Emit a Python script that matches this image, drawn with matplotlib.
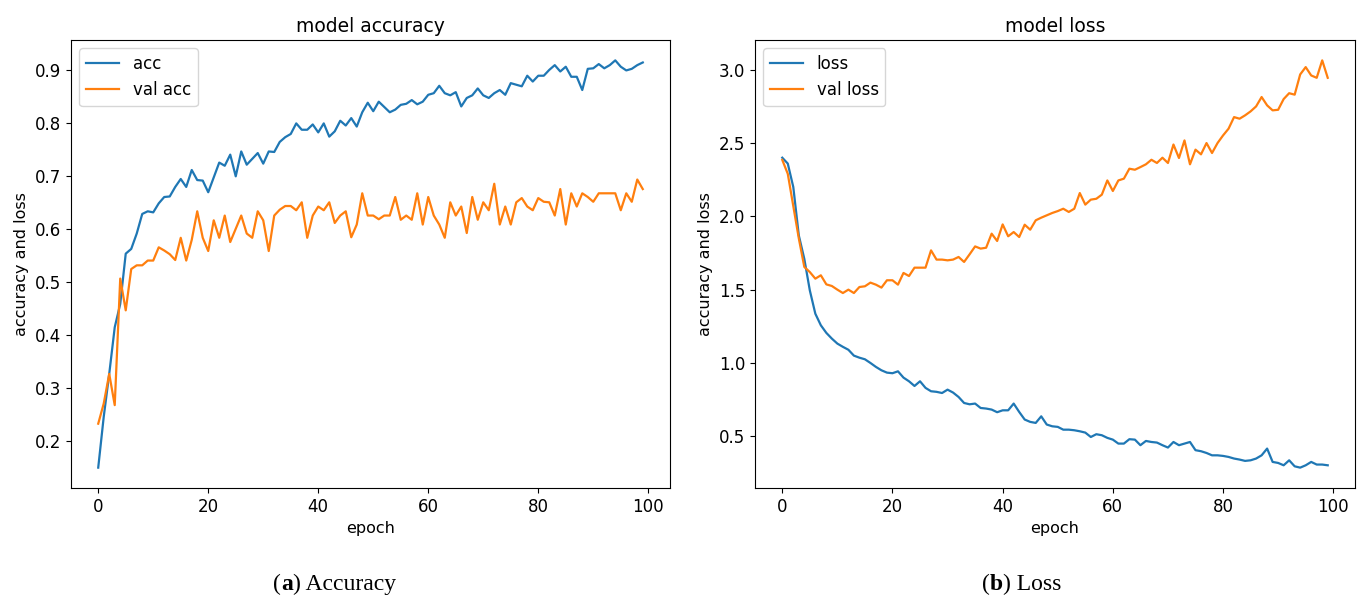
import matplotlib
matplotlib.use("Agg")
import matplotlib.pyplot as plt
import numpy as np

# values, one per epoch (0..99)
acc = [0.149, 0.245, 0.326, 0.414, 0.458, 0.553, 0.562, 0.591, 0.628, 0.633,
       0.631, 0.648, 0.660, 0.661, 0.679, 0.694, 0.679, 0.711, 0.692, 0.691,
       0.669, 0.697, 0.725, 0.719, 0.740, 0.699, 0.746, 0.721, 0.732, 0.743,
       0.723, 0.746, 0.745, 0.764, 0.773, 0.779, 0.799, 0.787, 0.787, 0.797,
       0.782, 0.799, 0.774, 0.784, 0.804, 0.795, 0.809, 0.793, 0.820, 0.838,
       0.822, 0.840, 0.830, 0.820, 0.825, 0.834, 0.836, 0.843, 0.835, 0.840,
       0.853, 0.856, 0.870, 0.856, 0.852, 0.858, 0.831, 0.847, 0.852, 0.865,
       0.852, 0.847, 0.856, 0.862, 0.853, 0.875, 0.872, 0.869, 0.889, 0.878,
       0.889, 0.889, 0.900, 0.909, 0.897, 0.906, 0.887, 0.887, 0.862, 0.902,
       0.903, 0.911, 0.903, 0.909, 0.918, 0.906, 0.899, 0.902, 0.909, 0.914]

val_acc = [0.232, 0.270, 0.326, 0.267, 0.506, 0.446, 0.524, 0.531, 0.531, 0.540,
           0.540, 0.565, 0.559, 0.552, 0.541, 0.583, 0.540, 0.579, 0.633, 0.583,
           0.558, 0.616, 0.583, 0.625, 0.575, 0.600, 0.625, 0.591, 0.583, 0.633,
           0.616, 0.558, 0.625, 0.636, 0.643, 0.643, 0.635, 0.650, 0.583, 0.625,
           0.642, 0.635, 0.650, 0.611, 0.625, 0.633, 0.584, 0.608, 0.667, 0.625,
           0.625, 0.618, 0.625, 0.625, 0.660, 0.617, 0.625, 0.617, 0.667, 0.608,
           0.660, 0.625, 0.608, 0.583, 0.650, 0.625, 0.642, 0.592, 0.660, 0.617,
           0.650, 0.635, 0.685, 0.608, 0.642, 0.608, 0.650, 0.658, 0.642, 0.635,
           0.658, 0.651, 0.650, 0.625, 0.675, 0.608, 0.667, 0.642, 0.667, 0.660,
           0.651, 0.667, 0.667, 0.667, 0.667, 0.635, 0.667, 0.651, 0.693, 0.675]

loss = [2.400, 2.360, 2.200, 1.870, 1.710, 1.495, 1.336, 1.257, 1.205, 1.166,
        1.132, 1.110, 1.090, 1.050, 1.036, 1.025, 1.000, 0.973, 0.950, 0.934,
        0.930, 0.943, 0.900, 0.875, 0.843, 0.875, 0.830, 0.807, 0.803, 0.795,
        0.818, 0.798, 0.768, 0.727, 0.718, 0.723, 0.693, 0.689, 0.682, 0.664,
        0.677, 0.677, 0.723, 0.666, 0.614, 0.598, 0.591, 0.636, 0.580, 0.568,
        0.564, 0.545, 0.545, 0.541, 0.534, 0.525, 0.495, 0.514, 0.507, 0.489,
        0.477, 0.450, 0.450, 0.480, 0.477, 0.439, 0.468, 0.461, 0.457, 0.439,
        0.423, 0.461, 0.439, 0.450, 0.461, 0.405, 0.398, 0.386, 0.370, 0.370,
        0.366, 0.359, 0.348, 0.341, 0.332, 0.336, 0.348, 0.370, 0.416, 0.325,
        0.318, 0.302, 0.336, 0.295, 0.286, 0.302, 0.325, 0.307, 0.307, 0.302]

val_loss = [2.385, 2.290, 2.070, 1.850, 1.655, 1.620, 1.575, 1.598, 1.536, 1.525,
            1.500, 1.477, 1.500, 1.477, 1.518, 1.523, 1.548, 1.534, 1.514, 1.564,
            1.564, 1.534, 1.614, 1.593, 1.650, 1.650, 1.650, 1.768, 1.705, 1.705,
            1.700, 1.705, 1.723, 1.689, 1.741, 1.795, 1.780, 1.786, 1.882, 1.832,
            1.945, 1.864, 1.893, 1.859, 1.943, 1.909, 1.973, 1.991, 2.007, 2.023,
            2.036, 2.052, 2.030, 2.052, 2.159, 2.080, 2.114, 2.120, 2.148, 2.245,
            2.173, 2.245, 2.257, 2.325, 2.318, 2.336, 2.355, 2.386, 2.364, 2.400,
            2.364, 2.490, 2.398, 2.518, 2.355, 2.455, 2.423, 2.500, 2.432, 2.500,
            2.552, 2.598, 2.677, 2.666, 2.689, 2.716, 2.750, 2.814, 2.757, 2.723,
            2.727, 2.800, 2.840, 2.830, 2.968, 3.018, 2.961, 2.945, 3.064, 2.945]

epochs = np.arange(len(acc))

panels = [
    ("model accuracy", acc, val_acc, ["acc", "val acc"], "a", "Accuracy"),
    ("model loss", loss, val_loss, ["loss", "val loss"], "b", "Loss"),
]

W, H = 1370, 601
fig = plt.figure(figsize=(W / 100, H / 100), dpi=100)
axes_pos = [[71 / W, 113 / H, 599 / W, 448 / H],
            [755 / W, 113 / H, 600 / W, 448 / H]]
caption_x = [273, 982]
cap_font = dict(family="Liberation Serif", fontsize=17)


def caption(x0, letter, word):
    # "(" + bold letter + ") word", pieces chained left to right
    left = fig.text(x0 / W, 11 / H, "(", **cap_font)
    mid = fig.add_artist(matplotlib.text.Annotation(
        letter, xy=(1, 0), xycoords=left, va="bottom", fontweight="bold", **cap_font))
    fig.add_artist(matplotlib.text.Annotation(
        ") " + word, xy=(1, 0), xycoords=mid, va="bottom", **cap_font))


for pos, cx, (title, train, val, names, letter, word) in zip(axes_pos, caption_x, panels):
    ax = fig.add_axes(pos)
    ax.plot(epochs, train, color="#1f77b4", lw=1.6, label=names[0])
    ax.plot(epochs, val, color="#ff7f0e", lw=1.6, label=names[1])
    ax.set_title(title, fontsize=13.5)
    ax.set_xlabel("epoch", fontsize=11.5)
    ax.set_ylabel("accuracy and loss", fontsize=11.5)
    ax.tick_params(labelsize=12)
    ax.legend(loc="upper left", fontsize=12)
    caption(cx, letter, word)

fig.savefig("out.png", dpi=100)
